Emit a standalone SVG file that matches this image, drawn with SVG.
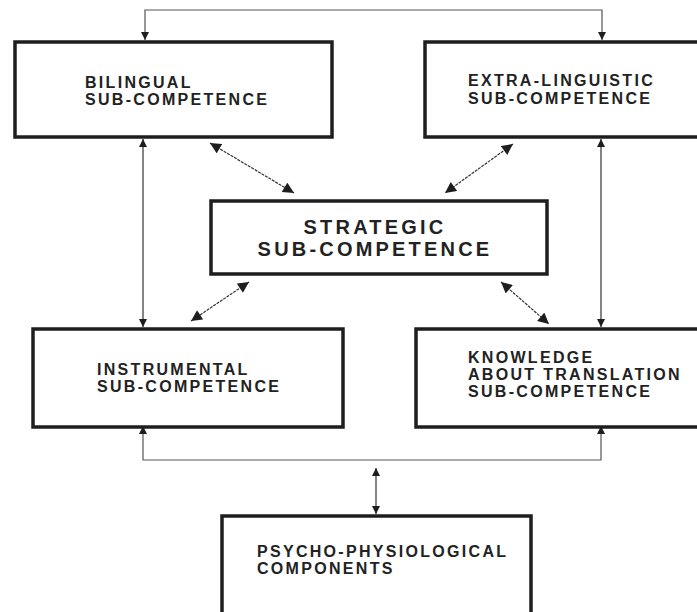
<svg xmlns="http://www.w3.org/2000/svg" width="697" height="612" viewBox="0 0 697 612">
<style>
.box{fill:#fff;stroke:#1e1e1e;stroke-width:3.5}
.t{font-family:"Liberation Sans",Arial,sans-serif;font-weight:bold;font-size:16px;letter-spacing:2.3px;fill:#222}
.tl{font-family:"Liberation Sans",Arial,sans-serif;font-weight:bold;font-size:20px;letter-spacing:3.2px;fill:#222}
.c{fill:none;stroke:#333;stroke-width:1.2}
.cg{fill:none;stroke:#555;stroke-width:1.2}
.d{fill:none;stroke:#333;stroke-width:1.2;stroke-dasharray:3 1}
</style>
<defs>
<marker id="a" viewBox="0 0 10 10" refX="10" refY="5" markerWidth="8" markerHeight="10" markerUnits="userSpaceOnUse" orient="auto-start-reverse">
<path d="M0,0 L10,5 L0,10 z" fill="#1e1e1e"/>
</marker>
<marker id="b" viewBox="0 0 10 10" refX="10" refY="5" markerWidth="12" markerHeight="11" markerUnits="userSpaceOnUse" orient="auto-start-reverse">
<path d="M0,0 L10,5 L0,10 z" fill="#1e1e1e"/>
</marker>
</defs>
<rect width="697" height="612" fill="#fff"/>
<g id="connectors">
<path class="cg" d="M145,40 V10 H602 V40" marker-start="url(#a)" marker-end="url(#a)"/>
<path class="cg" d="M143,426 V460 H601 V426" marker-start="url(#a)" marker-end="url(#a)"/>
<line class="c" x1="143" y1="139" x2="143" y2="327" marker-start="url(#a)" marker-end="url(#a)"/>
<line class="c" x1="601" y1="139" x2="601" y2="327" marker-start="url(#a)" marker-end="url(#a)"/>
<line class="c" x1="376" y1="468" x2="376" y2="514" marker-start="url(#a)" marker-end="url(#a)"/>
<line class="d" x1="210" y1="143" x2="294" y2="193" marker-start="url(#b)" marker-end="url(#b)"/>
<line class="d" x1="513" y1="144" x2="445" y2="193" marker-start="url(#b)" marker-end="url(#b)"/>
<line class="d" x1="249" y1="282" x2="191" y2="321" marker-start="url(#b)" marker-end="url(#b)"/>
<line class="d" x1="501" y1="282" x2="549" y2="324" marker-start="url(#b)" marker-end="url(#b)"/>
</g>
<g id="bilingual">
<rect class="box" x="15" y="42" width="317" height="95"/>
<text class="t" x="85" y="88">BILINGUAL</text>
<text class="t" x="85" y="105">SUB-COMPETENCE</text>
</g>
<g id="extra-linguistic">
<rect class="box" x="425" y="42" width="290" height="95"/>
<text class="t" x="468" y="86">EXTRA-LINGUISTIC</text>
<text class="t" x="468" y="104">SUB-COMPETENCE</text>
</g>
<g id="strategic">
<rect class="box" x="211" y="201" width="336" height="73"/>
<text class="tl" x="375" y="234" text-anchor="middle">STRATEGIC</text>
<text class="tl" x="375" y="256" text-anchor="middle">SUB-COMPETENCE</text>
</g>
<g id="instrumental">
<rect class="box" x="33" y="329" width="310" height="98"/>
<text class="t" x="97" y="375">INSTRUMENTAL</text>
<text class="t" x="97" y="392">SUB-COMPETENCE</text>
</g>
<g id="knowledge">
<rect class="box" x="416" y="329" width="300" height="98"/>
<text class="t" x="468" y="363">KNOWLEDGE</text>
<text class="t" x="468" y="380">ABOUT TRANSLATION</text>
<text class="t" x="468" y="397">SUB-COMPETENCE</text>
</g>
<g id="psycho">
<rect class="box" x="222" y="516" width="309" height="110"/>
<text class="t" x="257" y="557">PSYCHO-PHYSIOLOGICAL</text>
<text class="t" x="257" y="574">COMPONENTS</text>
</g>
</svg>
